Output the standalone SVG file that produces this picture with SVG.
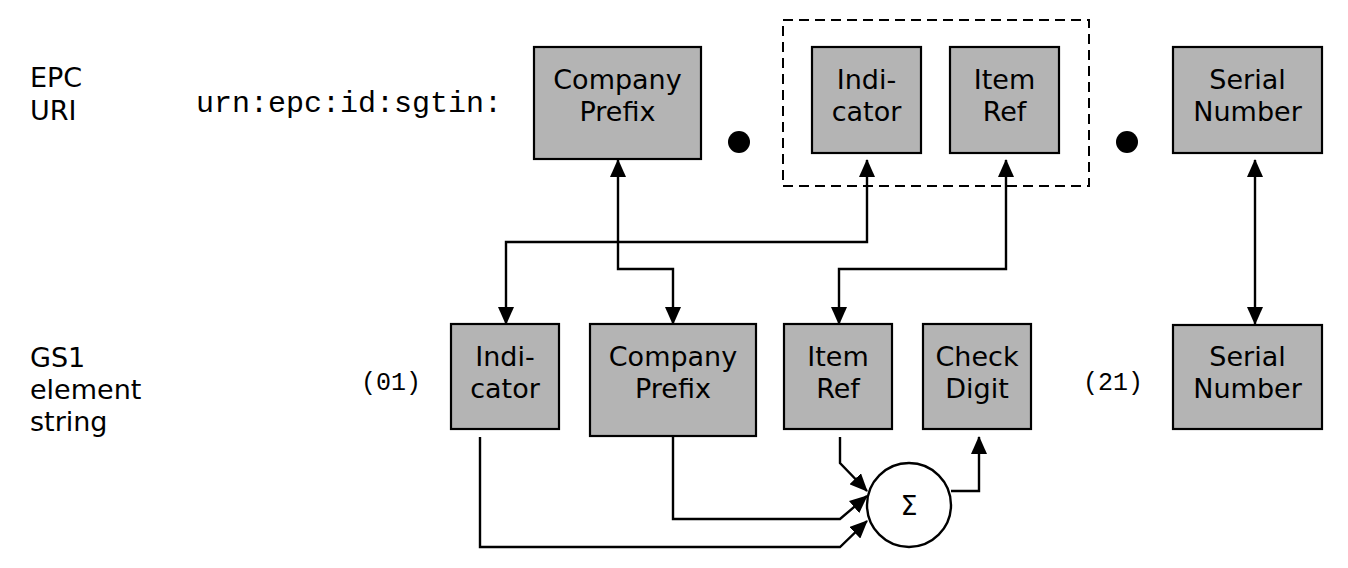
<svg xmlns="http://www.w3.org/2000/svg" width="1348" height="568" viewBox="0 0 1348 568">
<defs>
<style>
.box{fill:#b4b4b4;stroke:#000;stroke-width:2.2}
.t{font-family:"DejaVu Sans",Verdana,sans-serif;font-size:27px;fill:#000;text-anchor:middle}
.lbl{font-family:"DejaVu Sans",Verdana,sans-serif;font-size:27px;fill:#000}
.mono{font-family:"Liberation Mono","Courier New",monospace;fill:#000}
.c{fill:none;stroke:#000;stroke-width:2.4}
</style>
<marker id="ah" viewBox="0 0 18 16" refX="17" refY="8" markerWidth="18" markerHeight="16" markerUnits="userSpaceOnUse" orient="auto-start-reverse">
<path d="M0,0 L18,8 L0,16 Z" fill="#000"/>
</marker>
</defs>
<rect width="1348" height="568" fill="#fff"/>

<g id="labels">
<text class="lbl" x="30" y="87">EPC</text>
<text class="lbl" x="30" y="120">URI</text>
<text class="lbl" x="30" y="367">GS1</text>
<text class="lbl" x="30" y="399">element</text>
<text class="lbl" x="30" y="431">string</text>
<text class="mono" x="196" y="112" font-size="30">urn:epc:id:sgtin:</text>
<text class="mono" x="361" y="390" font-size="25">(01)</text>
<text class="mono" x="1083" y="390" font-size="25">(21)</text>
</g>

<g id="group-dashed">
<rect x="783" y="20" width="306" height="166" fill="none" stroke="#000" stroke-width="2" stroke-dasharray="10,6"/>
</g>

<g id="dots">
<circle cx="739" cy="142" r="11" fill="#000"/>
<circle cx="1127" cy="142" r="11" fill="#000"/>
</g>

<g id="epc-company-prefix">
<rect class="box" x="534" y="47" width="167" height="112"/>
<text class="t" x="617.5" y="89">Company</text>
<text class="t" x="617.5" y="121">Prefix</text>
</g>
<g id="epc-indicator">
<rect class="box" x="812" y="47" width="109" height="106"/>
<text class="t" x="866.5" y="89">Indi-</text>
<text class="t" x="866.5" y="121">cator</text>
</g>
<g id="epc-item-ref">
<rect class="box" x="950" y="47" width="109" height="106"/>
<text class="t" x="1004.5" y="89">Item</text>
<text class="t" x="1004.5" y="121">Ref</text>
</g>
<g id="epc-serial">
<rect class="box" x="1173" y="47" width="149" height="106"/>
<text class="t" x="1247.5" y="89">Serial</text>
<text class="t" x="1247.5" y="121">Number</text>
</g>

<g id="gs1-indicator">
<rect class="box" x="451" y="324" width="108" height="105"/>
<text class="t" x="505" y="366">Indi-</text>
<text class="t" x="505" y="398">cator</text>
</g>
<g id="gs1-company-prefix">
<rect class="box" x="590" y="324" width="166" height="112"/>
<text class="t" x="673" y="366">Company</text>
<text class="t" x="673" y="398">Prefix</text>
</g>
<g id="gs1-item-ref">
<rect class="box" x="784" y="324" width="108" height="105"/>
<text class="t" x="838" y="366">Item</text>
<text class="t" x="838" y="398">Ref</text>
</g>
<g id="gs1-check-digit">
<rect class="box" x="923" y="324" width="108" height="105"/>
<text class="t" x="977" y="366">Check</text>
<text class="t" x="977" y="398">Digit</text>
</g>
<g id="gs1-serial">
<rect class="box" x="1173" y="325" width="149" height="104"/>
<text class="t" x="1247.5" y="366">Serial</text>
<text class="t" x="1247.5" y="398">Number</text>
</g>

<g id="sum">
<ellipse cx="909" cy="505" rx="42" ry="42" fill="#fff" stroke="#000" stroke-width="2.4"/>
<text class="t" x="909" y="515" font-size="24">Σ</text>
</g>

<g id="connectors">
<path class="c" d="M618,160 V269 H673 V324" marker-start="url(#ah)" marker-end="url(#ah)"/>
<path class="c" d="M867,160 V242 H506 V324" marker-start="url(#ah)" marker-end="url(#ah)"/>
<path class="c" d="M1006,160 V269 H839 V324" marker-start="url(#ah)" marker-end="url(#ah)"/>
<path class="c" d="M1255,160 V324" marker-start="url(#ah)" marker-end="url(#ah)"/>
<path class="c" d="M840,437 V463 L867,491" marker-end="url(#ah)"/>
<path class="c" d="M673,436 V519 H840 L867,496" marker-end="url(#ah)"/>
<path class="c" d="M480,437 V547 H840 L867,521" marker-end="url(#ah)"/>
<path class="c" d="M951,491 H979 V437" marker-end="url(#ah)"/>
</g>
</svg>
